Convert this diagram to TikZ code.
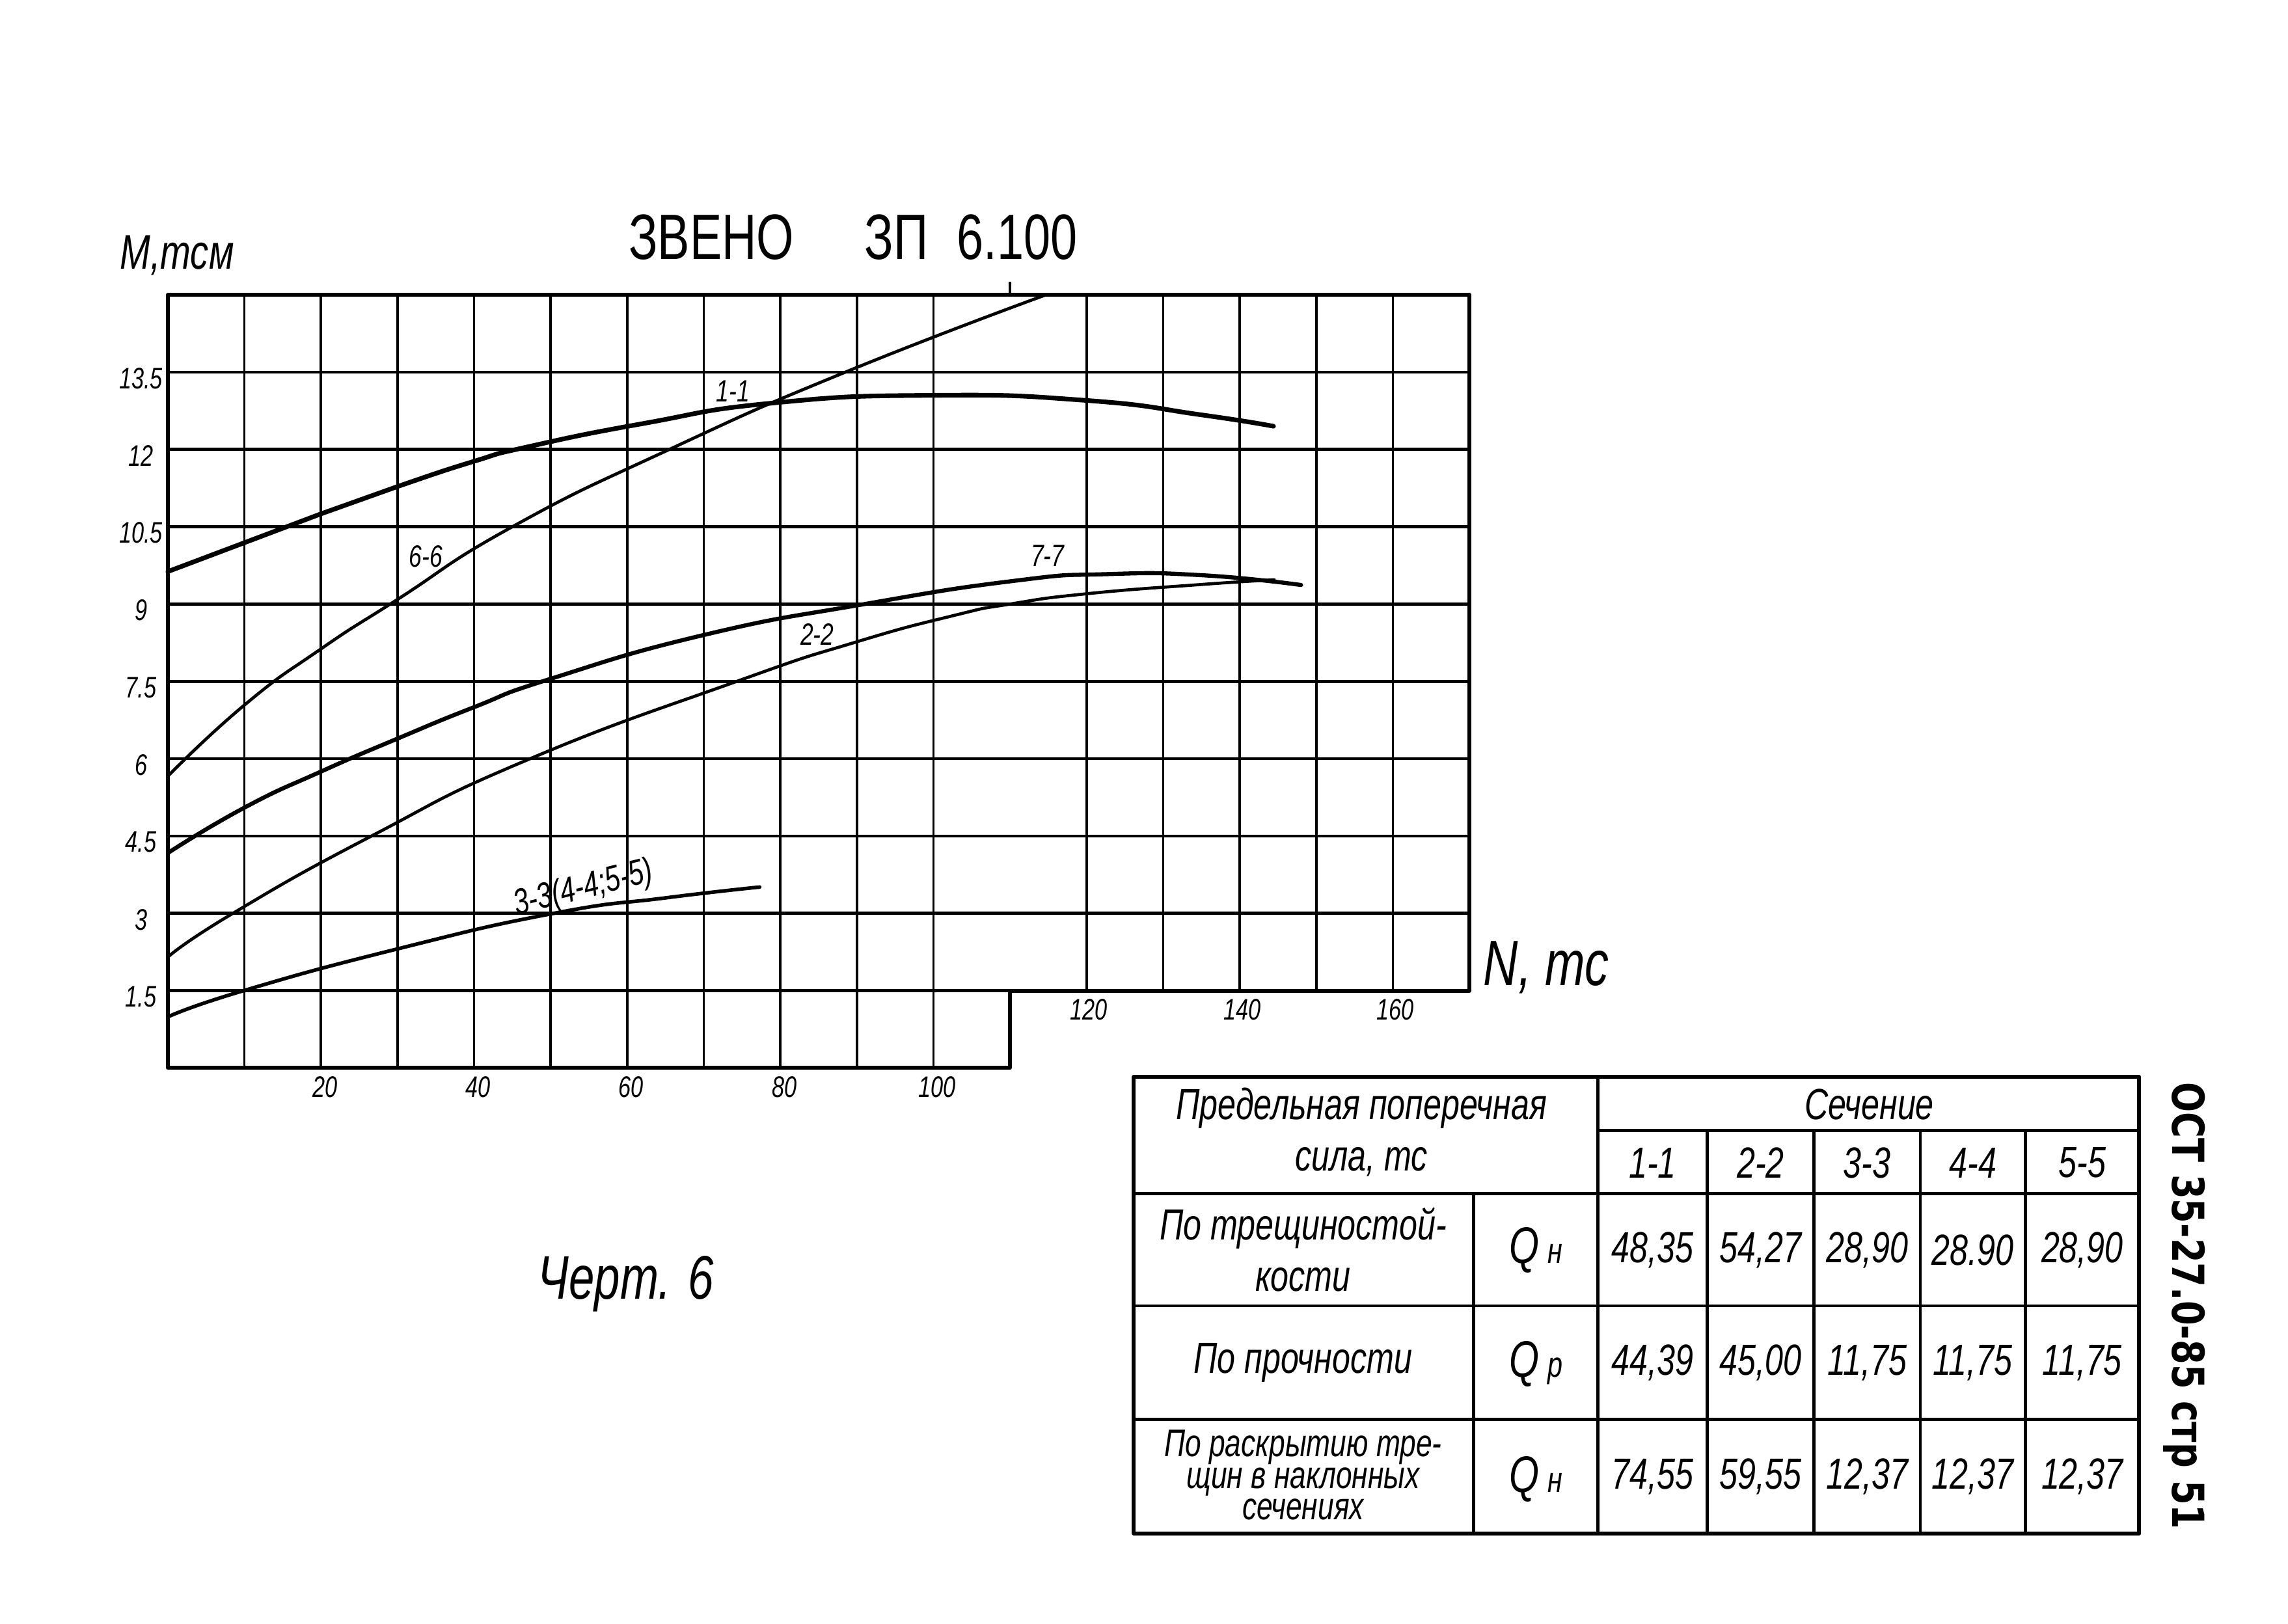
\documentclass[tikz,border=0pt]{standalone}
\usepackage{fontspec}
\newfontfamily\gost[FakeStretch=0.75]{Liberation Sans}
\newfontfamily\gostb[FakeStretch=0.8]{DejaVu Sans}
\usepackage{tikz}
\usetikzlibrary{positioning, calc}
\tikzset{hline/.style={line width=0.6pt}}
\tikzset{vline/.style={line width=0.45pt}}
\tikzset{outline/.style={line width=0.75pt, line join=round}}
\tikzset{curve/.style={line width=0.6pt, line join=round, line cap=round}}
\tikzset{tick/.style={font=\gost\itshape\fontsize{5.8}{6}\selectfont, inner sep=0pt}}
\tikzset{curvelbl/.style={font=\gost\itshape\fontsize{6}{7}\selectfont, inner sep=0pt}}
\tikzset{cell/.style={font=\gost\itshape\fontsize{8.5}{9}\selectfont, inner sep=0pt, align=center}}
\tikzset{tline/.style={line width=0.6pt}}

\begin{document}
\begin{tikzpicture}
	\useasboundingbox (0,0) rectangle (15.68,11.13);

	% chart: N in tc along x, M in tcm along y
	\begin{scope}[shift={(1.15,3.81)}, x=0.05247cm, y=0.3533cm]
		\foreach \m in {1.5,3,4.5,6,7.5,9,10.5,12,13.5}
			\draw[hline] (0,\m) -- (170,\m);
		\foreach \n in {10,20,...,100}
			\draw[vline] (\n,0) -- (\n,15);
		\foreach \n in {120,130,...,160}
			\draw[vline] (\n,1.5) -- (\n,15);
		\draw[outline] (0,0) -- (0,15) -- (170,15) -- (170,1.5) -- (110,1.5) -- (110,0) -- cycle;
		\draw[vline] (110,15) -- (110,15.25);

		\begin{scope}[every node/.style={tick}]
			\foreach \m/\t [count=\i] in {1.5/1.5, 3/3, 4.5/4.5, 6/6, 7.5/7.5, 9/9, 10.5/10.5, 12/12, 13.5/13.5}
				\node (my\i) at (-3.5,\m-0.12) {\t};
			\foreach \n [count=\i] in {20,40,...,100}
				\node (nx\i) at (\n+0.5,-0.37) {\n};
			\foreach \n [count=\i] in {120,140,160}
				\node (nu\i) at (\n+0.3,1.13) {\n};
		\end{scope}

		\node[font=\gost\itshape\fontsize{9.5}{10}\selectfont] (ma) at (1.2,15.77) {M,тсм};
		\node[font=\gost\itshape\fontsize{12.5}{13}\selectfont] (na) at (180,1.95) {N, тс};
		\node[font=\gost\fontsize{12.5}{13}\selectfont] (ttl) at (89.5,16.12) {ЗВЕНО\hspace{1.1em}ЗП\hspace{0.45em}6.100};

		% curves
		\draw[curve, line width=0.9pt] plot[smooth, tension=0.9] coordinates {(0,9.63) (10,10.19) (20,10.75) (30,11.28) (40,11.77) (47,12.05) (62,12.5) (79,12.9) (100,13.05) (120,12.95) (135,12.67) (144.4,12.45)};
		\draw[curve] plot[smooth, tension=0.9] coordinates {(0,5.66) (10,7.04) (20,8.13) (30,9.09) (45,10.5) (65.5,12) (88.5,13.5) (114.7,15)};
		\draw[curve, line width=0.8pt] plot[smooth, tension=0.9] coordinates {(0,4.17) (10,5.05) (20,5.75) (30,6.39) (40,7.0) (50,7.55) (70,8.4) (91,9) (110.5,9.45) (122.5,9.58) (135,9.56) (148,9.37)};
		\draw[curve] plot[smooth, tension=0.9] coordinates {(0,2.15) (8.5,3) (26.6,4.5) (47,5.98) (74.3,7.5) (89.8,8.26) (102.7,8.78) (110,9) (120,9.2) (135,9.38) (144.5,9.47)};
		\draw[curve, line width=0.7pt] plot[smooth, tension=0.9] coordinates {(0,0.99) (9.9,1.5) (30,2.31) (50.4,3) (65,3.3) (77.3,3.51)};

		\begin{scope}[every node/.style={curvelbl}]
			\node (l11) at (73.8,13.13) {1-1};
			\node (l66) at (33.7,9.93) {6-6};
			\node (l77) at (114.9,9.93) {7-7};
			\node (l22) at (84.8,8.41) {2-2};
			\node[rotate=14, font=\gost\itshape\fontsize{7}{8}\selectfont] (l33) at (54.3,3.47) {3-3(4-4;5-5)};
		\end{scope}
	\end{scope}

	\node[font=\gost\itshape\fontsize{12}{13}\selectfont] (fig) at (4.29,2.33) {Черт. 6};
	\node[rotate=-90, font=\gostb\bfseries\fontsize{8.6}{9}\selectfont] (doc) at (14.97,2.18) {ОСТ 35-27.0-85 стр 51};

	% table
	\draw[outline] (7.77,3.75) rectangle (14.66,0.62);
	\draw[tline] (10.95,3.38) -- (14.66,3.38);
	\draw[tline] (7.77,2.95) -- (14.66,2.95);
	\draw[tline] (7.77,2.18) -- (14.66,2.18);
	\draw[tline] (7.77,1.40) -- (14.66,1.40);
	\draw[tline] (10.95,3.75) -- (10.95,0.62);
	\draw[tline] (10.10,2.95) -- (10.10,0.62);
	\foreach \x in {11.70,12.43,13.16,13.88}
		\draw[tline] (\x,3.38) -- (\x,0.62);

	\begin{scope}[every node/.style={cell}]
		\node (hd) at (9.33,3.37) {Предельная поперечная\\[1pt]сила, тс};
		\node (sec) at (12.81,3.56) {Сечение};
		\foreach \s/\x [count=\i] in {1-1/11.325, 2-2/12.065, 3-3/12.795, 4-4/13.52, 5-5/14.27}
			\node (s\i) at (\x,3.16) {\s};

		\node (r1) at (8.93,2.565) {По трещиностой-\\[1pt]кости};
		\node (r2) at (8.93,1.79) {По прочности};
		\node[font=\gost\itshape\fontsize{7.5}{6.2}\selectfont] (r3) at (8.93,1.02) {По раскрытию тре-\\щин в наклонных\\сечениях};

		\node (q1) at (10.525,2.56) {\fontsize{10}{10}\selectfont Q\,\fontsize{7}{7}\selectfont н};
		\node (q2) at (10.525,1.78) {\fontsize{10}{10}\selectfont Q\,\fontsize{7}{7}\selectfont р};
		\node (q3) at (10.525,0.99) {\fontsize{10}{10}\selectfont Q\,\fontsize{7}{7}\selectfont н};

		\foreach \v/\x [count=\i] in {{48,35}/11.325, {54,27}/12.065, {28,90}/12.795, {28.90}/13.52, {28,90}/14.27}
			\node (a\i) at (\x,2.56) {\v};
		\foreach \v/\x [count=\i] in {{44,39}/11.325, {45,00}/12.065, {11,75}/12.795, {11,75}/13.52, {11,75}/14.27}
			\node (b\i) at (\x,1.79) {\v};
		\foreach \v/\x [count=\i] in {{74,55}/11.325, {59,55}/12.065, {12,37}/12.795, {12,37}/13.52, {12,37}/14.27}
			\node (c\i) at (\x,1.01) {\v};
	\end{scope}
\end{tikzpicture}
\end{document}
